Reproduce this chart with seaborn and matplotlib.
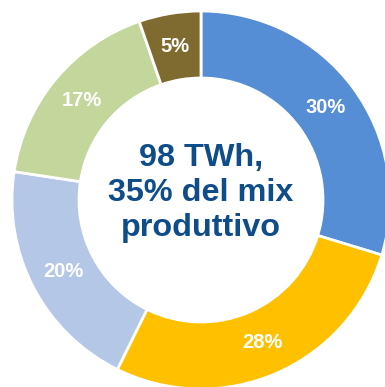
import matplotlib
matplotlib.use("Agg")
import matplotlib.pyplot as plt
import seaborn as sns
import numpy as np

# Data (shares read from the slice boundaries; labels as printed)
categories = ["A", "B", "C", "D", "E"]
shares = [29.7, 27.6, 20.1, 17.3, 5.3]
labels = ["30%", "28%", "20%", "17%", "5%"]
center_text = "98 TWh,\n35% del mix\nproduttivo"

sns.set_theme(style="white")
plt.rcParams['font.family'] = ['Liberation Sans', 'DejaVu Sans']

colors = ["#558ED5", "#FFC000", "#B4C7E7", "#C3D69B", "#7F6A2F"]

W, H = 385, 387
fig = plt.figure(figsize=(W / 100, H / 100), dpi=100)
ax = fig.add_axes([0, 0, 1, 1])
ax.axis("off")

R = 189.0
cx, cy = 201.0, 200.0
inner = 122.0 / R
width = 1 - inner

total = sum(shares)
wedges, _ = ax.pie(shares, colors=colors, startangle=90, counterclock=False,
                   radius=1.0, wedgeprops=dict(width=width, edgecolor="white", linewidth=2))

mid_r = 1 - width / 2
ang = 90.0
for s, lab in zip(shares, labels):
    frac = s / total * 360
    theta = np.deg2rad(ang - frac / 2)
    ang -= frac
    ax.text(mid_r * np.cos(theta), mid_r * np.sin(theta), lab, ha="center", va="center",
            color="white", fontsize=14.5, fontweight="bold")

ax.text(0, 7 / R, center_text, ha="center", va="center", color="#0F4C8A",
        fontsize=23.3, fontweight="bold", linespacing=1.2)

ax.set_xlim(-cx / R, (W - cx) / R)
ax.set_ylim(-(H - cy) / R, cy / R)
ax.set_aspect("equal", adjustable="datalim")
ax.set_position([0, 0, 1, 1])

fig.savefig("out.png", dpi=100)
